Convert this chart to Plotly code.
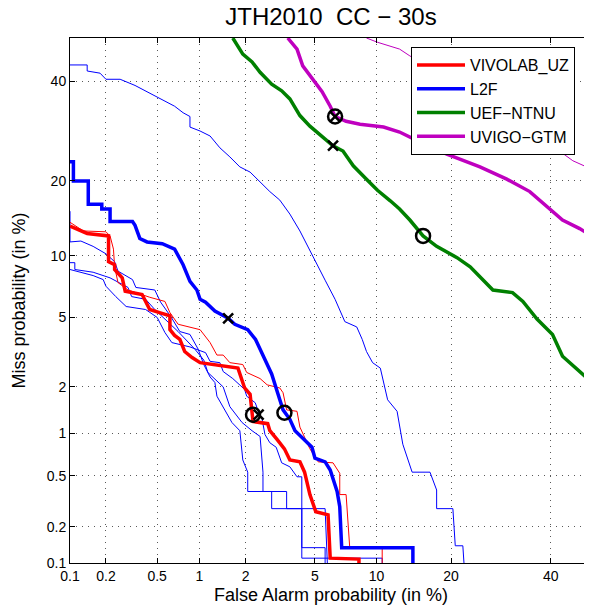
import plotly.graph_objects as go
from statistics import NormalDist

# ---------------- data (percent) ----------------
tick_vals = [0.1, 0.2, 0.5, 1, 2, 5, 10, 20, 40]
tick_text = ["0.1", "0.2", "0.5", "1", "2", "5", "10", "20", "40"]
x_limits = [0.1, 49.6]
y_limits = [0.1, 50.0]

# VIVOLAB_UZ primary (thick red)
vivolab_fa = [0.1, 0.14, 0.21, 0.21, 0.235, 0.235, 0.27, 0.285, 0.385, 0.44, 0.52, 0.62, 0.62, 0.67, 0.73,
              0.79, 0.89, 1.01, 1.79, 1.97, 2.13, 2.22, 2.72, 2.8, 3.1, 3.4, 3.65, 4.15, 4.4, 4.7, 5.05,
              5.85, 6.0, 8.3, 8.3]
vivolab_miss = [13.4, 12.5, 12.2, 9.4, 9.1, 8.65, 7.9, 6.8, 6.55, 5.5, 5.3, 5.1, 4.3, 4.0, 3.8, 3.25, 3.0,
                2.8, 2.6, 1.97, 1.8, 1.2, 1.16, 1.04, 0.9, 0.78, 0.65, 0.63, 0.53, 0.36, 0.265, 0.25,
                0.11, 0.108, 0.1]

# VIVOLAB_UZ contrastive (thin red)
vivolab2_fa = [0.1, 0.13, 0.2, 0.216, 0.23, 0.235, 0.25, 0.3, 0.44, 0.57, 0.62, 0.71, 1.01, 1.18, 1.31,
               1.44, 1.59, 1.92, 2.03, 2.45, 2.7, 3.2, 3.34, 3.5, 4.0, 4.15, 4.7, 5.2, 6.2, 6.7, 6.7, 7.2,
               7.5, 10.6, 10.6]
vivolab2_miss = [13.9, 12.8, 12.7, 12.2, 10.7, 8.9, 7.5, 6.9, 6.35, 6.05, 5.3, 4.6, 4.3, 3.65, 3.1, 3.1,
                 2.8, 2.73, 2.45, 2.25, 2.06, 1.97, 1.84, 1.43, 1.4, 1.1, 0.78, 0.63, 0.62, 0.52, 0.36,
                 0.36, 0.135, 0.135, 0.1]

# L2F primary (thick blue)
l2f_fa = [0.1, 0.107, 0.107, 0.143, 0.143, 0.185, 0.185, 0.216, 0.216, 0.325, 0.34, 0.37, 0.42, 0.545,
          0.67, 0.77, 0.86, 0.96, 1.01, 1.1, 1.27, 1.55, 1.71, 2.06, 2.3, 2.62, 2.87, 3.2, 3.34, 3.65,
          3.9, 4.4, 4.82, 5.0, 5.65, 6.0, 6.5, 6.7, 6.85, 14.3, 14.3]
l2f_miss = [23.3, 23.3, 20.0, 20.0, 16.4, 16.4, 15.7, 15.7, 14.0, 14.0, 13.5, 11.9, 11.5, 11.3, 10.7,
            9.1, 7.6, 6.9, 6.2, 6.0, 5.4, 4.95, 4.6, 4.3, 3.8, 2.9, 2.4, 1.66, 1.43, 1.24, 1.04, 0.9,
            0.8, 0.67, 0.63, 0.55, 0.38, 0.29, 0.135, 0.135, 0.1]

# L2F contrastive systems (thin blue)
l2f_a_fa = [0.1, 0.14, 0.14, 0.179, 0.2, 0.26, 0.34, 0.42, 0.52, 0.67, 0.77, 0.86, 0.86, 1.01, 1.18,
            1.37, 1.59, 1.84, 2.13, 2.45, 2.8, 3.2, 3.65, 4.15, 4.82, 5.65, 6.35, 7.1, 8.1, 8.6, 9.0,
            9.6, 10.4, 11.2, 12.3, 12.6, 13.0, 14.2, 16.7, 17.7, 17.7, 20.3, 20.7, 22.0, 22.2]
l2f_a_miss = [43.7, 43.7, 42.3, 41.8, 40.4, 40.4, 39.0, 37.6, 36.2, 34.4, 33.0, 32.2, 30.0, 29.2, 28.2,
              25.9, 24.2, 22.4, 21.5, 19.8, 18.3, 17.0, 15.0, 12.8, 10.2, 7.7, 6.2, 4.75, 4.45, 3.8,
              3.25, 2.8, 2.6, 1.66, 1.4, 1.1, 0.84, 0.53, 0.53, 0.39, 0.28, 0.28, 0.14, 0.14, 0.1]

l2f_b_fa = [0.1, 0.1, 0.124, 0.157, 0.2, 0.235, 0.25, 0.325, 0.345, 0.48, 0.53, 0.63, 0.73, 0.86, 0.98,
            1.07, 1.18, 1.27, 1.31, 1.52, 1.64, 1.84, 1.92, 2.06, 2.06, 2.87, 2.87, 4.25, 4.25, 5.65, 5.65]
l2f_b_miss = [15.4, 11.5, 11.6, 11.0, 10.2, 9.4, 8.5, 7.75, 7.1, 6.9, 6.0, 5.05, 4.2, 4.05, 3.35, 2.73,
              2.3, 2.13, 1.75, 1.37, 1.18, 1.04, 0.65, 0.53, 0.38, 0.38, 0.28, 0.28, 0.135, 0.135, 0.1]

l2f_c_fa = [0.1, 0.11, 0.11, 0.157, 0.216, 0.3, 0.32, 0.41, 0.48, 0.57, 0.71, 0.93, 1.07, 1.14, 1.44,
            1.59, 1.9, 2.19, 2.45, 2.55, 2.55, 3.5, 3.5, 5.65, 5.8]
l2f_c_miss = [9.3, 9.3, 8.65, 8.4, 7.9, 7.1, 6.4, 6.2, 5.5, 4.9, 4.2, 3.35, 2.9, 2.45, 2.0, 1.5, 1.18,
              1.04, 0.95, 0.53, 0.38, 0.38, 0.28, 0.28, 0.1]

l2f_d_fa = [0.1, 0.157, 0.19, 0.2, 0.24, 0.29, 0.41, 0.5, 0.57, 0.64, 0.86, 0.96, 1.1, 1.18, 1.37, 1.44,
            1.66, 1.97, 2.03, 2.29, 2.45, 2.52, 2.62, 2.8, 3.05, 3.28, 3.65, 4.0, 4.25, 4.25, 10.6, 10.6]
l2f_d_miss = [8.65, 8.1, 7.75, 7.2, 6.4, 5.7, 5.5, 5.0, 4.15, 3.65, 3.45, 3.35, 3.2, 2.85, 2.8, 2.48,
              2.25, 1.93, 1.75, 1.59, 1.3, 1.24, 0.98, 0.86, 0.8, 0.62, 0.58, 0.49, 0.49, 0.11, 0.11, 0.1]

# UEF-NTNU (thick green)
uef_fa = [1.66, 1.92, 2.19, 2.45, 2.87, 3.28, 3.65, 4.15, 4.7, 5.45, 6.2, 6.95, 7.8, 9.0, 10.1, 11.5,
          12.6, 13.9, 15.7, 17.7, 21.0, 23.3, 25.7, 27.6, 31.6, 33.8, 36.9, 40.4, 42.7, 46.0, 48.3, 49.6]
uef_miss = [50.0, 46.2, 44.4, 42.0, 39.3, 37.8, 36.0, 32.4, 30.2, 28.0, 26.3, 25.3, 22.6, 20.3, 18.5,
            16.9, 15.7, 14.2, 12.2, 11.0, 9.8, 8.9, 7.75, 6.9, 6.7, 6.05, 4.9, 4.05, 3.05, 2.55, 2.28, 2.0]

# UVIGO-GTM primary (thick magenta) and contrastive (thin magenta)
uvigo_fa = [3.55, 4.0, 4.3, 4.9, 5.45, 6.0, 6.35, 7.2, 8.4, 10.75, 12.6, 15.3, 19.3, 25.1, 30.4, 35.3,
            39.1, 42.7, 46.7, 49.5]
uvigo_miss = [50.0, 47.4, 43.5, 40.4, 37.6, 34.4, 32.2, 31.2, 30.6, 30.0, 29.0, 27.0, 24.7, 22.4, 20.3,
              18.3, 16.1, 14.2, 13.1, 12.2]
uvigo2_fa = [9.0, 10.1, 12.6, 13.9, 19.8, 29.0, 37.6, 40.2, 42.0, 45.1, 48.3, 49.5]
uvigo2_miss = [50.0, 49.0, 47.4, 45.8, 40.4, 34.4, 29.6, 27.6, 25.3, 23.5, 22.4, 22.0]

# operating points: actual decision (circle) and minimum DCF (cross)
act_fa = [2.22, 3.4, 15.7, 6.35]
act_miss = [1.33, 1.37, 12.2, 32.2]
min_fa = [2.4, 1.55, 6.2, 6.35]
min_miss = [1.33, 4.95, 26.3, 32.2]

# ---------------- probit (normal deviate) scale ----------------
_nd = NormalDist()


def probit(values):
    return [_nd.inv_cdf(v / 100.0) for v in values]


RED = "rgb(255,0,0)"
BLUE = "rgb(0,0,255)"
GREEN = "rgb(0,128,0)"
MAGENTA = "rgb(191,0,191)"

fig = go.Figure()


def add_curve(fa, miss, color, width, name=None, legend=False):
    fig.add_trace(go.Scatter(
        x=probit(fa), y=probit(miss), mode="lines",
        line=dict(color=color, width=width),
        name=name, showlegend=legend, hoverinfo="skip"))


# thin (contrastive) curves first
add_curve(uvigo2_fa, uvigo2_miss, MAGENTA, 1)
add_curve(l2f_a_fa, l2f_a_miss, BLUE, 1)
add_curve(l2f_b_fa, l2f_b_miss, BLUE, 1)
add_curve(l2f_c_fa, l2f_c_miss, BLUE, 1)
add_curve(l2f_d_fa, l2f_d_miss, BLUE, 1)
add_curve(vivolab2_fa, vivolab2_miss, RED, 1)

# primary curves (legend)
add_curve(vivolab_fa, vivolab_miss, RED, 3.5, "VIVOLAB_UZ", True)
add_curve(l2f_fa, l2f_miss, BLUE, 3.5, "L2F", True)
add_curve(uef_fa, uef_miss, GREEN, 3.5, "UEF\u2212NTNU", True)
add_curve(uvigo_fa, uvigo_miss, MAGENTA, 3.5, "UVIGO\u2212GTM", True)

fig.add_trace(go.Scatter(
    x=probit(act_fa), y=probit(act_miss), mode="markers", showlegend=False, hoverinfo="skip",
    marker=dict(symbol="circle-open", size=14, color="black", line=dict(width=2.5, color="black"))))
fig.add_trace(go.Scatter(
    x=probit(min_fa), y=probit(min_miss), mode="markers", showlegend=False, hoverinfo="skip",
    marker=dict(symbol="x-thin-open", size=10, color="black", line=dict(width=2.5, color="black"))))

FONT = "Liberation Sans, Arial, Helvetica, sans-serif"
axis_common = dict(
    tickvals=probit(tick_vals), ticktext=tick_text,
    showline=True, linecolor="black", linewidth=1, mirror="ticks",
    ticks="inside", ticklen=5, tickwidth=1, tickcolor="black",
    showgrid=True, gridcolor="rgba(0,0,0,0.65)", gridwidth=1, griddash="1px,5px",
    zeroline=False, tickfont=dict(family=FONT, size=14, color="black"),
    automargin=False,
)

# the page body adds an 8px offset, so the figure is 584x602 with matching margins
W, H = 584, 602
fig.update_layout(
    width=W, height=H,
    margin=dict(l=62, r=0, t=30, b=47, autoexpand=False),
    paper_bgcolor="white", plot_bgcolor="white",
    font=dict(family=FONT, color="black"),
    title=dict(text="JTH2010\u00a0\u00a0CC \u2212 30s", font=dict(family=FONT, size=24, color="black"),
               x=0.5, xref="paper", y=1.0, yref="container", yanchor="top",
               pad=dict(t=0, b=0, l=0, r=0)),
    xaxis=dict(range=probit(x_limits),
               title=dict(text="False Alarm probability (in %)", font=dict(family=FONT, size=18), standoff=5),
               **axis_common),
    yaxis=dict(range=probit(y_limits),
               title=dict(text="Miss probability (in %)", font=dict(family=FONT, size=18), standoff=16),
               **axis_common),
    legend=dict(x=(411 - 70) / 522, y=(563 - 47) / 525, xanchor="left", yanchor="top",
                bgcolor="white", bordercolor="black", borderwidth=1,
                font=dict(family=FONT, size=16, color="black"), itemwidth=48,
                tracegroupgap=0),
    showlegend=True,
)

fig.write_html("out.html")
